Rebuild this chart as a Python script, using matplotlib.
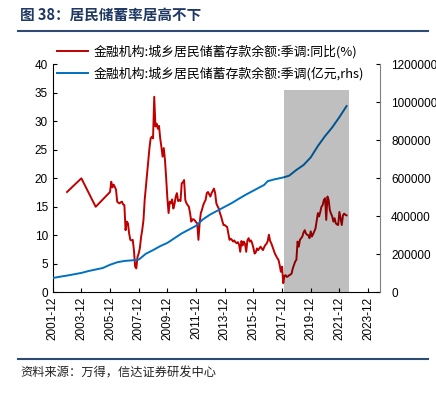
import matplotlib
matplotlib.use("Agg")
from matplotlib import pyplot as plt
from matplotlib.lines import Line2D
from matplotlib.ticker import FuncFormatter

plt.rcParams['font.family'] = ['Liberation Sans', 'Noto Sans CJK SC', 'DejaVu Sans']

# 同比(%)：2002-2005 为年末值，2006 年起为月度
red_early_dates = ["2002-12", "2003-12", "2004-12", "2005-12"]
red_early_vals = [17.6, 20.0, 15.0, 17.6]
red_monthly_start = "2006-01"
red_monthly_vals = [
    19.4, 18.4, 18.9, 18.5, 18.0, 15.9, 15.7, 15.6, 15.8, 15.9, 15.4, 15.3,   # 2006
    10.9, 12.4, 12.1, 10.3, 9.2, 9.1, 9.2, 7.4, 4.5, 4.2, 6.2, 6.8,           # 2007
    7.8, 9.7, 11.0, 12.7, 16.2, 18.5, 20.9, 23.0, 25.3, 27.0, 27.3, 27.0,     # 2008
    34.3, 29.1, 29.6, 28.7, 29.2, 27.0, 25.5, 23.8, 25.3, 23.2, 20.0, 16.5,   # 2009
    13.9, 15.9, 15.6, 16.3, 14.7, 15.5, 16.8, 17.4, 16.0, 16.2, 16.0, 19.1,   # 2010
    19.3, 19.7, 16.2, 15.6, 15.3, 15.0, 13.9, 12.4, 12.8, 12.8, 12.6, 12.3,   # 2011
    12.1, 9.2, 12.1, 13.9, 14.5, 15.3, 15.8, 16.2, 17.4, 17.6, 17.2, 16.8,    # 2012
    17.4, 17.8, 18.2, 17.4, 15.6, 15.1, 14.7, 13.9, 13.3, 12.5, 11.8, 11.8,   # 2013
    11.6, 11.5, 10.3, 9.2, 9.4, 9.2, 8.9, 9.1, 8.8, 8.6, 8.8, 8.4,            # 2014
    7.1, 9.0, 8.2, 8.9, 8.5, 7.1, 9.1, 9.5, 8.9, 9.1, 8.6, 7.8,               # 2015
    6.8, 7.0, 7.7, 7.4, 7.7, 8.0, 7.7, 7.4, 7.9, 8.3, 8.5, 9.0,               # 2016
    10.1, 9.0, 8.6, 8.0, 7.4, 6.8, 6.4, 6.0, 5.7, 4.8, 3.6, 4.5,              # 2017
    1.6, 2.9, 3.0, 2.7, 2.8, 3.0, 3.1, 3.3, 4.2, 4.8, 5.4, 5.7,               # 2018
    8.9, 8.0, 9.2, 9.5, 9.8, 10.5, 10.9, 10.3, 10.1, 10.0, 9.5, 10.7,         # 2019
    9.8, 10.2, 10.7, 11.2, 12.5, 13.9, 13.3, 14.1, 15.0, 15.3, 16.2, 16.5,    # 2020
    12.7, 16.8, 16.2, 14.4, 13.8, 13.3, 12.4, 13.0, 12.1, 11.9, 11.8, 14.1,   # 2021
    13.0, 11.8, 13.5, 13.8, 13.6, 13.5,                                       # 2022
]

# 余额(亿元, rhs)
blue_dates = ["2001-12", "2002-06", "2002-12", "2003-06", "2003-12", "2004-06", "2004-12",
              "2005-06", "2005-12", "2006-06", "2006-12", "2007-06", "2007-12", "2008-06",
              "2008-12", "2009-06", "2009-12", "2010-06", "2010-12", "2011-06", "2011-12",
              "2012-06", "2012-12", "2013-06", "2013-12", "2014-06", "2014-12", "2015-06",
              "2015-12", "2016-06", "2016-09", "2016-12", "2017-06", "2017-12", "2018-03",
              "2018-06", "2018-12", "2019-06", "2019-12", "2020-06", "2020-12", "2021-06",
              "2021-12", "2022-06"]
blue_vals = [75000, 82000, 88000, 95000, 102000, 112000, 120000,
             128000, 145000, 158000, 165000, 168000, 172000, 203000,
             222000, 243000, 260000, 285000, 310000, 330000, 350000,
             385000, 410000, 430000, 450000, 470000, 493000, 515000,
             535000, 555000, 565000, 585000, 595000, 603000, 608000,
             614000, 644000, 670000, 710000, 770000, 822000, 868000,
             922000, 980000]

xtick_labels = ["2001-12", "2003-12", "2005-12", "2007-12", "2009-12", "2011-12",
                "2013-12", "2015-12", "2017-12", "2019-12", "2021-12", "2023-12"]
shade_span = ("2018-02", "2022-08")
shade_top = 35.5

label_red = "金融机构:城乡居民储蓄存款余额:季调:同比(%)"
label_blue = "金融机构:城乡居民储蓄存款余额:季调(亿元,rhs)"


def to_m(s):
    # 以 2001-12 为 0 的月序号
    y, mo = s.split("-")
    return (int(y) - 2001) * 12 + int(mo) - 12


m0 = to_m(red_monthly_start)
red_x = [to_m(d) for d in red_early_dates] + [m0 + i for i in range(len(red_monthly_vals))]
red_y = red_early_vals + red_monthly_vals
blue_x = [to_m(d) for d in blue_dates]

W, H = 436, 396
fig = plt.figure(figsize=(W / 100, H / 100), dpi=100)
ax = fig.add_axes([52.7 / W, 1 - 292.3 / H, (380 - 52.7) / W, (292.3 - 64.3) / H])
ax2 = ax.twinx()

red_c = "#C00000"
blue_c = "#0070C0"
ax.plot(red_x, red_y, color=red_c, lw=1.4)
ax2.plot(blue_x, blue_vals, color=blue_c, lw=1.4)

# 灰色阴影，盖在线上
ax2.axvspan(to_m(shade_span[0]), to_m(shade_span[1]), ymin=0, ymax=shade_top / 40,
            color="black", alpha=0.25, lw=0, zorder=5)

ax.set_xlim(0, 274)
ax.set_ylim(0, 40)
ax2.set_ylim(0, 1200000)
ax.set_xticks([to_m(t) for t in xtick_labels])
ax.set_xticklabels(xtick_labels, rotation=90)
ax.set_yticks(range(0, 41, 5))
ax2.set_yticks(range(0, 1200001, 200000))
ax2.yaxis.set_major_formatter(FuncFormatter(lambda v, p: f"{int(v)}"))

for a in (ax, ax2):
    a.spines["top"].set_visible(False)
    a.tick_params(direction="in", length=3, labelsize=8.5, width=0.8)
ax.spines["right"].set_visible(False)
ax2.spines["left"].set_visible(False)
ax2.spines["bottom"].set_visible(False)
ax2.spines["right"].set_color("#808080")
ax.tick_params(axis="x", pad=3)
ax2.tick_params(axis="y", pad=8, colors="black")

handles = [Line2D([], [], color=red_c, lw=1.4), Line2D([], [], color=blue_c, lw=1.4)]
fig.legend(handles, [label_red, label_blue], loc="upper left",
           bbox_to_anchor=(57 / W, 1 - 45 / H), frameon=False, borderpad=0, borderaxespad=0,
           handlelength=2.4, handletextpad=0.4, labelspacing=0.62,
           prop={"family": ["Noto Sans CJK SC"], "size": 9.3})

navy = "#2F4A73"
fig.text(20 / W, 1 - 15 / H, "图 38：居民储蓄率居高不下", fontsize=10.5, fontweight="bold",
         color="#1F3864", va="center", family=["Noto Sans CJK SC"])
fig.add_artist(Line2D([18 / W, 428 / W], [1 - 31 / H] * 2, color=navy, lw=1.5))
fig.add_artist(Line2D([18 / W, 428 / W], [1 - 359 / H] * 2, color=navy, lw=1.5))
fig.text(20 / W, 1 - 373 / H, "资料来源：万得，信达证券研发中心", fontsize=8.8, style="italic",
         color="#222222", va="center", family=["Noto Sans CJK SC"])

fig.savefig("out.png", dpi=100)
